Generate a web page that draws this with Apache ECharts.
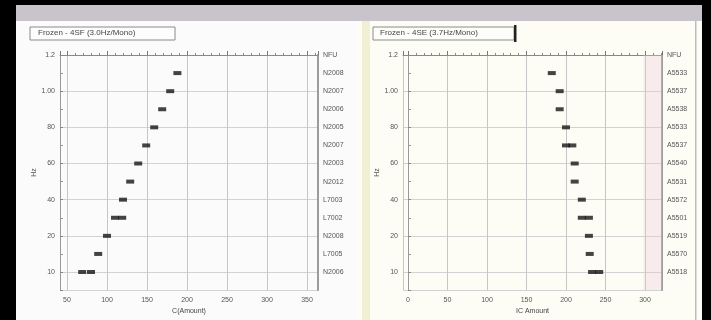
<!DOCTYPE html>
<html>
<head>
<meta charset="utf-8">
<script src="https://cdn.jsdelivr.net/npm/echarts@6/dist/echarts.min.js"></script>
<style>
  html, body { margin: 0; padding: 0; background: #000; }
  #chart { width: 711px; height: 320px; }
</style>
</head>
<body>
<div id="chart"></div>
<script>
// Panel titles
const titleLeft = 'Frozen - 4SF (3.0Hz/Mono)';
const titleRight = 'Frozen - 4SE (3.7Hz/Mono)';

// Left-hand tick labels (shared by both panels), one per even row
const yTickLabels = ['1.2', '1.00', '80', '60', '40', '20', '10'];

// Right-hand row labels (row 0 is the header at the top edge)
const rowLabelsLeft = ['NFU', 'N2008', 'N2007', 'N2006', 'N2005', 'N2007', 'N2003',
  'N2012', 'L7003', 'L7002', 'N2008', 'L7005', 'N2006'];
const rowLabelsRight = ['NFU', 'A5533', 'A5537', 'A5538', 'A5533', 'A5537', 'A5540',
  'A5531', 'A5572', 'A5501', 'A5519', 'A5570', 'A5518'];

// Measured values per row (rows 1..12, top to bottom)
const valuesLeft = [[188], [179], [169], [159], [149], [139], [129], [120],
  [110, 119], [100], [89], [69, 80]];
const valuesRight = [[182], [192], [192], [200], [200, 208], [211], [211], [220],
  [220, 229], [229], [230], [233, 242]];

// Axis names
const xNameLeft = 'C(Amount)';
const xNameRight = 'IC Amount';
const yName = 'Hz';

// Shaded reference band on the right panel
const bandRight = [298, 321.5];

function toPoints(rows) {
  const pts = [];
  rows.forEach((vals, i) => vals.forEach(v => pts.push([v, i + 1])));
  return pts;
}

const font = 'Liberation Sans, Arial, sans-serif';
const labelStyle = { fontSize: 7, color: '#555', fontFamily: font };
const gridLine = { lineStyle: { color: '#d2d2d2', width: 1 } };

function xAxisFor(gridIndex, min, max, name) {
  return {
    gridIndex, type: 'value', min, max, minInterval: 50, maxInterval: 50,
    name, nameLocation: 'middle', nameGap: 17,
    nameTextStyle: { fontSize: 7, color: '#444', fontFamily: font },
    axisLine: { show: true, lineStyle: { color: '#888', width: 1 } },
    axisTick: { show: true, inside: true, length: 4, lineStyle: { color: '#777' } },
    minorTick: { show: true, splitNumber: 5, length: 2, lineStyle: { color: '#888' } },
    splitLine: { show: true, lineStyle: { color: '#c6c6c6', width: 1 } },
    axisLabel: Object.assign({ showMinLabel: false, showMaxLabel: false, margin: 6 }, labelStyle)
  };
}

function yAxisLeft(gridIndex) {
  return {
    gridIndex, type: 'value', inverse: true, min: 0, max: 13, interval: 2,
    name: yName, nameLocation: 'middle', nameGap: 22, nameRotate: 90,
    nameTextStyle: { fontSize: 7, color: '#555', fontFamily: font },
    axisLine: { show: true, lineStyle: { color: '#999', width: 1 } },
    axisTick: { show: true, inside: true, length: 3, lineStyle: { color: '#888' } },
    minorTick: { show: true, splitNumber: 2, length: 3, lineStyle: { color: '#999' } },
    splitLine: gridLine,
    axisLabel: Object.assign({
      margin: 5,
      formatter: v => (v % 2 === 0 && v <= 12) ? yTickLabels[v / 2] : ''
    }, labelStyle)
  };
}

function yAxisRight(gridIndex, names) {
  return {
    gridIndex, type: 'value', inverse: true, min: 0, max: 13, interval: 1,
    position: 'right',
    axisLine: { show: true, lineStyle: { color: '#9c9c9c', width: 2 } },
    axisTick: { show: false },
    splitLine: { show: false },
    axisLabel: Object.assign({
      margin: 5,
      formatter: v => (v <= 12 ? names[v] : '')
    }, labelStyle)
  };
}

const chart = echarts.init(document.getElementById('chart'), null, { renderer: 'canvas' });

chart.setOption({
  animation: false,
  backgroundColor: '#000',
  graphic: [
    // top band
    { type: 'rect', z: -20, shape: { x: 16, y: 5, width: 686, height: 16 }, style: { fill: '#c9c4cc' } },
    // left panel
    { type: 'rect', z: -20, shape: { x: 16, y: 21, width: 341, height: 299 }, style: { fill: '#fbfbfb' } },
    // right panel
    { type: 'rect', z: -20, shape: { x: 357, y: 21, width: 345, height: 299 }, style: { fill: '#fdfdf6' } },
    { type: 'rect', z: -19, shape: { x: 362, y: 21, width: 8, height: 299 }, style: { fill: '#f1f0d4' } },
    { type: 'rect', z: -19, shape: { x: 695, y: 21, width: 1.5, height: 299 }, style: { fill: '#bdbdbd' } },
    // title boxes
    { type: 'rect', z: 10, shape: { x: 30, y: 27, width: 145, height: 13 },
      style: { fill: '#fdfdfd', stroke: '#8a8a8a', lineWidth: 1 } },
    { type: 'text', z: 11, x: 38, y: 29,
      style: { text: titleLeft, fontSize: 8, fill: '#444', fontFamily: font } },
    { type: 'rect', z: 10, shape: { x: 373, y: 27, width: 141, height: 13 },
      style: { fill: '#fdfdfa', stroke: '#8a8a8a', lineWidth: 1 } },
    { type: 'rect', z: 10, shape: { x: 514, y: 25, width: 2.5, height: 17 }, style: { fill: '#222' } },
    { type: 'text', z: 11, x: 380, y: 29,
      style: { text: titleRight, fontSize: 8, fill: '#444', fontFamily: font } }
  ],
  grid: [
    { left: 60, right: 393, top: 55, bottom: 26 },
    { left: 403, right: 49, top: 55, bottom: 26 }
  ],
  xAxis: [
    xAxisFor(0, 41.25, 363.75, xNameLeft),
    xAxisFor(1, -6.3, 321.5, xNameRight)
  ],
  yAxis: [
    yAxisLeft(0), yAxisRight(0, rowLabelsLeft),
    yAxisLeft(1), yAxisRight(1, rowLabelsRight)
  ],
  series: [
    {
      type: 'scatter', xAxisIndex: 0, yAxisIndex: 0,
      symbol: 'rect', symbolSize: [8, 4], silent: true,
      itemStyle: { color: '#151515' },
      data: toPoints(valuesLeft)
    },
    {
      type: 'scatter', xAxisIndex: 1, yAxisIndex: 2,
      symbol: 'rect', symbolSize: [8, 4], silent: true,
      itemStyle: { color: '#151515' },
      data: toPoints(valuesRight),
      markArea: {
        silent: true,
        itemStyle: { color: 'rgba(240, 200, 215, 0.32)' },
        data: [[{ xAxis: bandRight[0] }, { xAxis: bandRight[1] }]]
      }
    }
  ]
});
</script>
</body>
</html>
